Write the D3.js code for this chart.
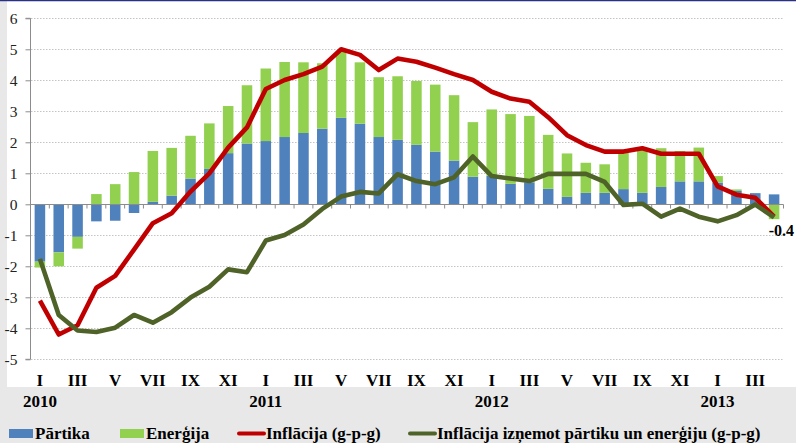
<!DOCTYPE html>
<html>
<head>
<meta charset="utf-8">
<script src="https://cdn.jsdelivr.net/npm/d3@7"></script>
<style>
  body { margin: 0; background: #e8e8e8; }
  svg { display: block; }
</style>
</head>
<body>
<div class="viz"></div>
<script>
// months Jan 2010 .. Apr 2013
const romans = ['I', 'II', 'III', 'IV', 'V', 'VI', 'VII', 'VIII', 'IX', 'X', 'XI', 'XII']
const years = ['2010', '2011', '2012', '2013']
const yTicks = [-5, -4, -3, -2, -1, 0, 1, 2, 3, 4, 5, 6]

const food = [-1.85, -1.55, -1.05, -0.55, -0.53, -0.28, 0.08, 0.28, 0.83, 1.14, 1.65, 1.96,
  2.04, 2.17, 2.30, 2.44, 2.79, 2.60, 2.17, 2.08, 1.92, 1.70, 1.41, 0.89,
  0.92, 0.66, 0.71, 0.50, 0.24, 0.37, 0.37, 0.49, 0.37, 0.56, 0.74, 0.74,
  0.70, 0.43, 0.36, 0.32]
const energy = [-0.19, -0.45, -0.38, 0.33, 0.65, 1.04, 1.64, 1.54, 1.38, 1.47, 1.52, 1.88,
  2.34, 2.42, 2.28, 2.11, 2.13, 1.98, 1.93, 2.05, 2.06, 2.16, 2.11, 1.76,
  2.14, 2.25, 2.14, 1.74, 1.40, 0.97, 0.92, 1.23, 1.40, 1.25, 0.98, 1.09,
  0.21, 0.05, 0.0, -0.48]
const inflation = [-3.11, -4.2, -3.9, -2.69, -2.31, -1.46, -0.61, -0.29, 0.41, 1.0, 1.83, 2.48,
  3.72, 4.01, 4.2, 4.44, 5.0, 4.82, 4.33, 4.70, 4.6, 4.41, 4.2, 4.01,
  3.63, 3.41, 3.31, 2.81, 2.23, 1.91, 1.70, 1.70, 1.81, 1.63, 1.63, 1.63,
  0.58, 0.31, 0.21, -0.4]
const core = [-1.76, -3.57, -4.07, -4.12, -3.98, -3.57, -3.82, -3.48, -3.01, -2.66, -2.1, -2.19,
  -1.17, -0.99, -0.65, -0.15, 0.25, 0.40, 0.35, 0.97, 0.75, 0.65, 0.87, 1.54,
  0.91, 0.83, 0.75, 0.98, 0.98, 0.98, 0.72, -0.02, 0.02, -0.4, -0.14, -0.4,
  -0.55, -0.35, -0.01, -0.42]
const lastLabel = '-0.4'

const legendItems = [
  { name: 'Pārtika', type: 'rect', color: '#4f81bd', x: 9 },
  { name: 'Enerģija', type: 'rect', color: '#92d050', x: 120 },
  { name: 'Inflācija (g-p-g)', type: 'line', color: '#c00000', x: 237 },
  { name: 'Inflācija izņemot pārtiku un enerģiju (g-p-g)', type: 'line', color: '#4f6228', x: 408 }
]

const W = 796, H = 443
const FONT = 'Liberation Serif'
const months = d3.range(food.length)
const rows = months.map(i => ({ i, food: food[i], energy: energy[i] }))

const svg = d3.select('.viz').append('svg')
  .attr('width', W)
  .attr('height', H)

// background + plot area
svg.append('rect').attr('width', W).attr('height', H).attr('fill', '#e8e8e8')
svg.append('rect').attr('x', 7).attr('y', 1).attr('width', W - 7).attr('height', 386).attr('fill', '#fff')
svg.append('line').attr('x1', 0).attr('x2', W).attr('y1', 0.5).attr('y2', 0.5)
  .attr('stroke', '#2b3087').attr('stroke-width', 1.5)

const x = d3.scaleBand().domain(months).range([30.5, 783.5]).paddingInner(0.44).paddingOuter(0.22)
const y = d3.scaleLinear().domain([-5, 6]).range([359.3, 18.3])
const step = x.step()
const cx = i => x(i) + x.bandwidth() / 2

// gridlines
svg.append('g').selectAll('line')
  .data(yTicks.filter(d => d !== 0)).enter().append('line')
    .attr('x1', 31).attr('x2', 783.5)
    .attr('y1', d => Math.round(y(d)) + 0.5).attr('y2', d => Math.round(y(d)) + 0.5)
    .attr('stroke', '#c4c4c4').attr('stroke-dasharray', '1.5,1.5')

// y axis
const yAxis = svg.append('g')
  .attr('transform', 'translate(30.5,0)')
  .call(d3.axisLeft(y).tickValues(yTicks).tickSize(5))
  .attr('font-family', FONT)
yAxis.select('.domain').attr('stroke', '#8c8c8c').attr('d', `M-5,${y(6)}H0V${y(-5)}H-5`)
yAxis.selectAll('.tick line').attr('stroke', '#8c8c8c')
yAxis.selectAll('.tick text')
  .attr('x', -13).attr('font-size', 15.5).attr('fill', '#222')
  .attr('font-family', FONT)
  .text(d => d < 0 ? '-' + Math.abs(d) : d)

// stacked bars
const stack = d3.stack().keys(['food', 'energy']).offset(d3.stackOffsetDiverging)
const series = stack(rows)
const colors = { food: '#4f81bd', energy: '#92d050' }

svg.append('g').selectAll('g')
  .data(series).enter().append('g')
    .attr('fill', d => colors[d.key])
  .selectAll('rect')
  .data(d => d).enter().append('rect')
    .attr('x', d => x(d.data.i))
    .attr('width', x.bandwidth())
    .attr('y', d => y(Math.max(d[0], d[1])))
    .attr('height', d => Math.abs(y(d[0]) - y(d[1])))

// x axis line at zero with ticks between months
const y0 = Math.round(y(0)) + 0.5
svg.append('line').attr('x1', 30.5).attr('x2', 783.5).attr('y1', y0).attr('y2', y0)
  .attr('stroke', '#8c8c8c')
svg.append('g').selectAll('line')
  .data(d3.range(food.length + 1)).enter().append('line')
    .attr('x1', k => 30.5 + k * step).attr('x2', k => 30.5 + k * step)
    .attr('y1', y0).attr('y2', y0 + 4)
    .attr('stroke', '#8c8c8c')

// lines
const line = d3.line().x((d, i) => cx(i)).y(d => y(d))
svg.append('path').datum(inflation)
  .attr('d', line).attr('fill', 'none')
  .attr('stroke', '#c00000').attr('stroke-width', 4.6).attr('stroke-linejoin', 'round')
svg.append('path').datum(core)
  .attr('d', line).attr('fill', 'none')
  .attr('stroke', '#4f6228').attr('stroke-width', 4.6).attr('stroke-linejoin', 'round')

// last value label
svg.append('text')
  .attr('x', 794).attr('y', 235.5)
  .attr('text-anchor', 'end')
  .attr('font-family', FONT)
  .attr('font-size', 16).attr('font-weight', 'bold')
  .text(lastLabel)

// month labels (every second month)
svg.append('g').selectAll('text')
  .data(months.filter(i => i % 2 === 0)).enter().append('text')
    .attr('x', i => cx(i))
    .attr('y', 386)
    .attr('text-anchor', 'middle')
    .attr('font-family', FONT)
    .attr('font-size', 17).attr('font-weight', 'bold')
    .text(i => romans[i % 12])

// year labels under January
svg.append('g').selectAll('text')
  .data(years).enter().append('text')
    .attr('x', (d, k) => cx(k * 12))
    .attr('y', 407)
    .attr('text-anchor', 'middle')
    .attr('font-family', FONT)
    .attr('font-size', 17).attr('font-weight', 'bold')
    .text(d => d)

// legend
const legend = svg.append('g').selectAll('g')
  .data(legendItems).enter().append('g')
    .attr('transform', d => `translate(${d.x},0)`)
legend.filter(d => d.type === 'rect').append('rect')
  .attr('x', 0).attr('y', 429).attr('width', 24).attr('height', 9)
  .attr('fill', d => d.color)
legend.filter(d => d.type === 'line').append('line')
  .attr('x1', 2).attr('x2', 27).attr('y1', 433.5).attr('y2', 433.5)
  .attr('stroke', d => d.color).attr('stroke-width', 4).attr('stroke-linecap', 'round')
legend.append('text')
  .attr('x', d => d.type === 'rect' ? 26 : 29)
  .attr('y', 439)
  .attr('font-family', FONT)
  .attr('font-size', 17).attr('font-weight', 'bold')
  .text(d => d.name)
</script>
</body>
</html>
